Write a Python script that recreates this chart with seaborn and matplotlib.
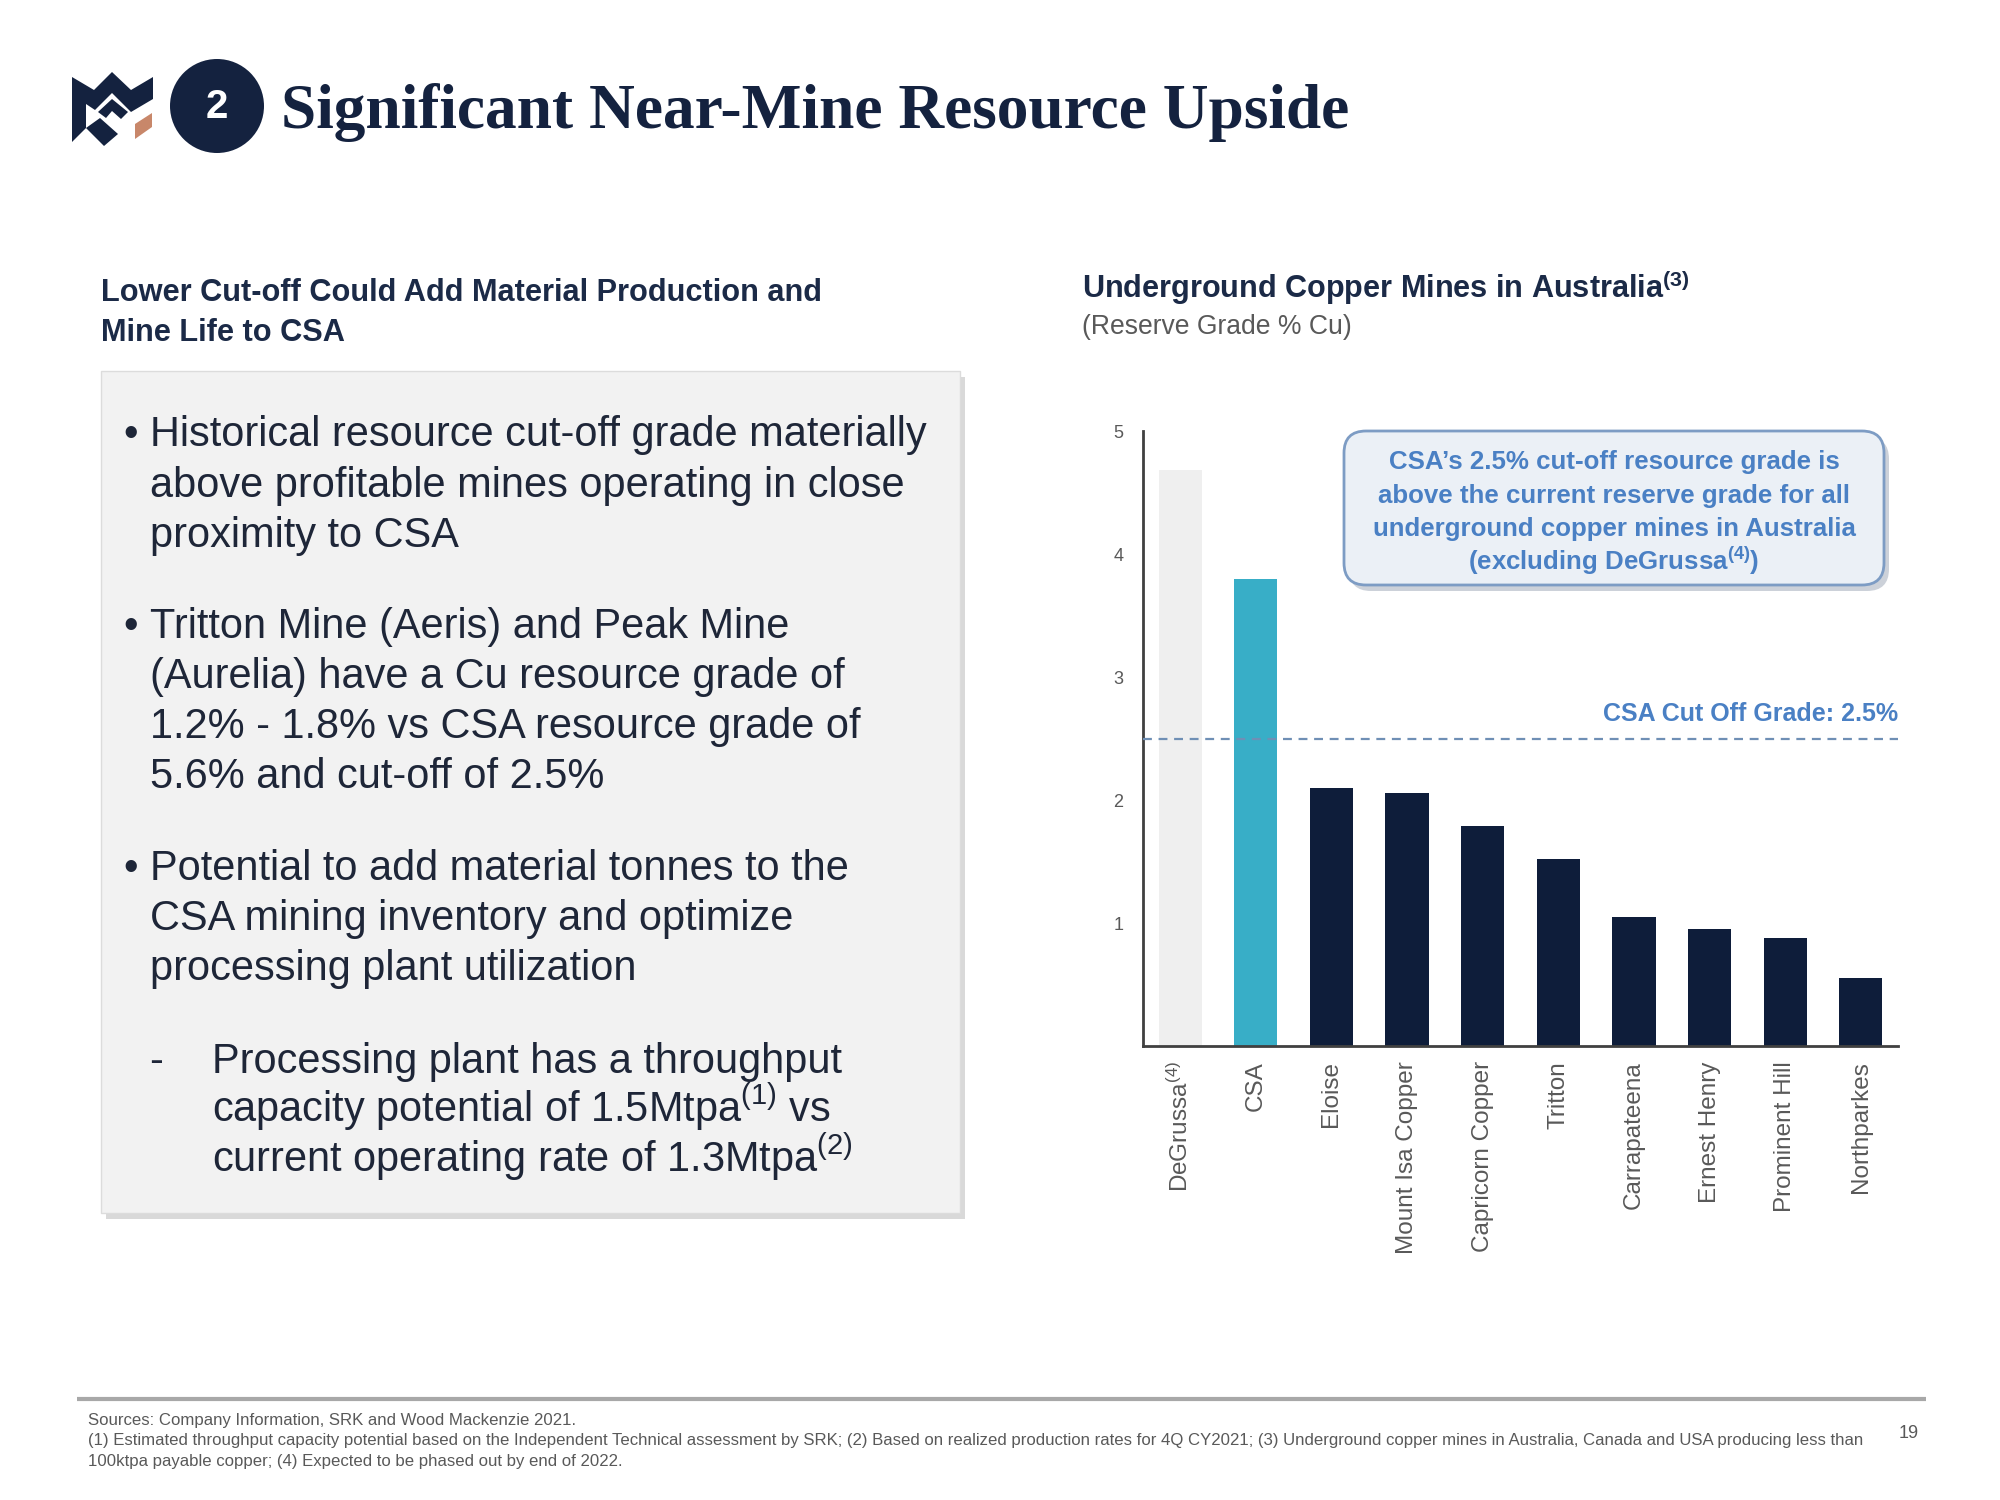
import matplotlib
matplotlib.use("Agg")
import matplotlib.pyplot as plt
import seaborn as sns
import numpy as np
import pandas as pd
from matplotlib.patches import FancyBboxPatch, Rectangle, Circle, Polygon

# ---------------- data ----------------
mines = ["DeGrussa", "CSA", "Eloise", "Mount Isa Copper", "Capricorn Copper",
         "Tritton", "Carrapateena", "Ernest Henry", "Prominent Hill", "Northparkes"]
grades = [4.68, 3.80, 2.10, 2.06, 1.79, 1.52, 1.05, 0.95, 0.88, 0.55]
tick_labels = [r"DeGrussa$^{(4)}$", "CSA", "Eloise", "Mount Isa Copper", "Capricorn Copper",
               "Tritton", "Carrapateena", "Ernest Henry", "Prominent Hill", "Northparkes"]
bar_colors = ["#efefef", "#38aec7"] + ["#0e1d3a"] * 8
cutoff = 2.5
yticks = [1, 2, 3, 4, 5]

title = "Significant Near-Mine Resource Upside"
left_heading = ["Lower Cut-off Could Add Material Production and", "Mine Life to CSA"]
chart_title = r"Underground Copper Mines in Australia$^{\mathbf{(3)}}$"
chart_sub = "(Reserve Grade % Cu)"
callout = ["CSA\u2019s 2.5% cut-off resource grade is",
           "above the current reserve grade for all",
           "underground copper mines in Australia",
           r"(excluding DeGrussa$^{\mathbf{(4)}}$)"]
bullets = [
    ["Historical resource cut-off grade materially",
     "above profitable mines operating in close",
     "proximity to CSA"],
    ["Tritton Mine (Aeris) and Peak Mine",
     "(Aurelia) have a Cu resource grade of",
     "1.2% - 1.8% vs CSA resource grade of",
     "5.6% and cut-off of 2.5%"],
    ["Potential to add material tonnes to the",
     "CSA mining inventory and optimize",
     "processing plant utilization"],
]
sub_bullet = ["Processing plant has a throughput",
              r"capacity potential of 1.5Mtpa$^{(1)}$ vs",
              r"current operating rate of 1.3Mtpa$^{(2)}$"]
footnotes = ["Sources: Company Information, SRK and Wood Mackenzie 2021.",
             "(1) Estimated throughput capacity potential based on the Independent Technical assessment by SRK; (2) Based on realized production rates for 4Q CY2021; (3) Underground copper mines in Australia, Canada and USA producing less than",
             "100ktpa payable copper; (4) Expected to be phased out by end of 2022."]

# ---------------- style ----------------
sns.set_theme(style="white")
plt.rcParams["font.family"] = ["Liberation Sans", "DejaVu Sans"]
plt.rcParams["mathtext.fontset"] = "custom"
plt.rcParams["mathtext.rm"] = "Liberation Sans"
plt.rcParams["mathtext.it"] = "Liberation Sans:italic"
plt.rcParams["mathtext.bf"] = "Liberation Sans:bold"

NAVY = "#14223f"
TXT = "#1e2638"
GREY = "#595959"
BLUE = "#4a80c4"

fig = plt.figure(figsize=(20, 15), dpi=100)
fig.patch.set_facecolor("white")
renderer = fig.canvas.get_renderer()

# ---------------- chart ----------------
ax = fig.add_axes([1143 / 2000, 1 - 1046 / 1500, 755 / 2000, 615 / 1500], zorder=2)
df = pd.DataFrame({"mine": mines, "grade": grades})
sns.barplot(data=df, x="mine", y="grade", hue="mine", palette=bar_colors, legend=False,
            width=0.57, saturation=1, linewidth=0, ax=ax)
ax.set_xlim(-0.49, 9.49)
ax.set_ylim(0, 5)
ax.set_facecolor("none")
ax.set_xlabel("")
ax.set_ylabel("")
ax.set_yticks(yticks)
ax.set_yticklabels([str(v) for v in yticks], color=GREY, fontsize=13)
ax.set_xticks(range(len(mines)))
ax.set_xticklabels(tick_labels, rotation=90, color=GREY, fontsize=17.5, va="top", ha="center")
ax.tick_params(axis="y", length=0, pad=14)
ax.tick_params(axis="x", length=0, pad=11)
for s in ["top", "right"]:
    ax.spines[s].set_visible(False)
for s in ["left", "bottom"]:
    ax.spines[s].set_color("#404040")
    ax.spines[s].set_linewidth(2)
ax.axhline(cutoff, color="#6f8fb5", lw=1.6, ls=(0, (4, 3)), zorder=3)
ax.text(9.49, 2.64, "CSA Cut Off Grade: 2.5%", ha="right", va="baseline",
        color=BLUE, fontsize=18, fontweight="bold")

# ---------------- overlay ----------------
ov = fig.add_axes([0, 0, 1, 1], zorder=5)
ov.set_xlim(0, 2000)
ov.set_ylim(1500, 0)
ov.axis("off")
ov.patch.set_alpha(0)


def fit(t, width):
    bb = t.get_window_extent(renderer)
    t.set_fontsize(t.get_fontsize() * width / bb.width)
    return t.get_fontsize()


# logo
ov.add_patch(Polygon([(72, 77), (94, 90), (112, 72), (131, 90), (153, 77), (153, 99),
                      (131, 112), (112, 93), (95, 110), (86, 104), (86, 128), (72, 142)],
                     closed=True, fc=NAVY, ec="none"))
ov.add_patch(Polygon([(98, 112), (112, 99), (128, 112), (121, 119), (112, 111), (106, 118)],
                     closed=True, fc=NAVY, ec="none"))
ov.add_patch(Polygon([(86, 128), (100, 118), (118, 134), (104, 146)], closed=True, fc=NAVY, ec="none"))
ov.add_patch(Polygon([(135, 124), (152, 113), (152, 127), (135, 139)], closed=True, fc="#c8876a", ec="none"))
ov.add_patch(Circle((217, 106), 47, fc=NAVY, ec="none"))
ov.text(217, 107, "2", color="white", fontsize=29, fontweight="bold", ha="center", va="center")

# title
t = ov.text(281, 128, title, fontfamily=["Liberation Serif", "DejaVu Serif"], fontweight="bold",
            color=NAVY, fontsize=44, va="baseline", ha="left")
fit(t, 1069)

# left heading
h1 = ov.text(101, 301, left_heading[0], fontweight="bold", color="#1b2a47", fontsize=20, va="baseline")
hs = fit(h1, 723)
ov.text(101, 341, left_heading[1], fontweight="bold", color="#1b2a47", fontsize=hs, va="baseline")

# grey box with shadow
ov.add_patch(Rectangle((106, 377), 859, 842, fc="#c9c9c9", ec="none", alpha=0.7))
ov.add_patch(Rectangle((101, 371), 859, 842, fc="#f2f2f2", ec="#dcdcdc", lw=1))

# bullets
tb = ov.text(150, 446, bullets[0][0], color=TXT, fontsize=25, va="baseline")
bs = fit(tb, 779)
bullet_base = [[446, 497, 547], [638, 688, 738, 788], [880, 930, 980]]
for gi, (grp, bases) in enumerate(zip(bullets, bullet_base)):
    ov.text(131, bases[0], "\u2022", color=TXT, fontsize=bs, va="baseline", ha="center")
    for li, (line, yb) in enumerate(zip(grp, bases)):
        if gi == 0 and li == 0:
            continue
        ov.text(150, yb, line, color=TXT, fontsize=bs, va="baseline")
sub_base = [1073, 1122, 1172]
ov.text(156, sub_base[0], "-", color=TXT, fontsize=bs, va="baseline", ha="center")
for line, yb in zip(sub_bullet, sub_base):
    ov.text(212, yb, line, color=TXT, fontsize=bs, va="baseline")

# chart title
ct = ov.text(1082, 298, "Underground Copper Mines in Australia", fontweight="bold",
             color="#1b2a47", fontsize=20, va="baseline")
cs = fit(ct, 579)
ct.set_text(chart_title)
st = ov.text(1082, 334, chart_sub, color=GREY, fontsize=18, va="baseline")
fit(st, 270)

# callout box
ov.add_patch(FancyBboxPatch((1349, 437), 540, 154, boxstyle="round,pad=0,rounding_size=22",
                            fc="#aab3c0", ec="none", alpha=0.6))
ov.add_patch(FancyBboxPatch((1344, 431), 540, 154, boxstyle="round,pad=0,rounding_size=22",
                            fc="#ebf0f6", ec="#7d9cc4", lw=2))
c2 = ov.text(1614, 503, callout[1], color=BLUE, fontsize=16, fontweight="bold", ha="center", va="baseline")
cfs = fit(c2, 472)
for line, yb in zip([callout[0], callout[2], callout[3]], [469, 536, 570]):
    ov.text(1614, yb, line, color=BLUE, fontsize=cfs, fontweight="bold", ha="center", va="baseline")

# footer
ov.plot([77, 1926], [1399, 1399], color="#a8a8a8", lw=3, solid_capstyle="butt")
f2 = ov.text(88, 1445, footnotes[1], color=GREY, fontsize=12, va="baseline")
ffs = fit(f2, 1772)
ov.text(88, 1425, footnotes[0], color=GREY, fontsize=ffs, va="baseline")
ov.text(88, 1466, footnotes[2], color=GREY, fontsize=ffs, va="baseline")
ov.text(1909, 1434, "19", color=GREY, fontsize=13, ha="center", va="center")

fig.savefig("out.png", dpi=100, facecolor="white")
